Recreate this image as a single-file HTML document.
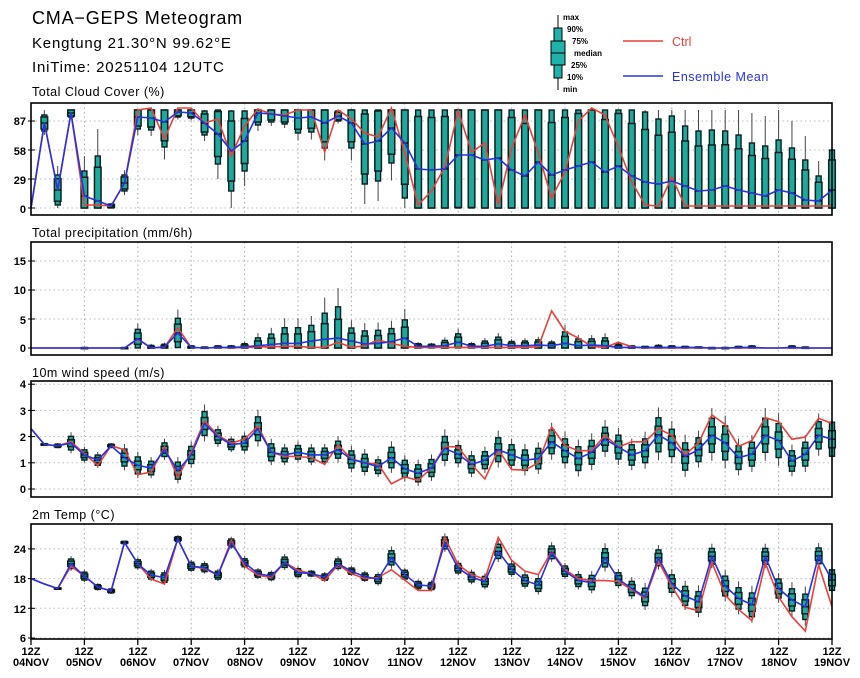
<!DOCTYPE html>
<html><head><meta charset="utf-8"><style>
html,body{margin:0;padding:0;background:#fff;}
svg{display:block;font-family:"Liberation Sans",sans-serif;}
.t{font-size:11px;font-weight:bold;fill:#000}
.pt{font-size:12.5px;fill:#000;letter-spacing:0.5px}
</style></head><body>
<svg id="s" width="860" height="678" viewBox="0 0 860 678" xmlns="http://www.w3.org/2000/svg">
<text x="32" y="24" style="font-size:18px;letter-spacing:0.8px">CMA−GEPS Meteogram</text>
<text x="32" y="48" style="font-size:15px;letter-spacing:0.8px">Kengtung 21.30°N 99.62°E</text>
<text x="32" y="72" style="font-size:15px;letter-spacing:0.8px">IniTime: 20251104 12UTC</text>
<g id="leg">
<line x1="558" y1="15" x2="558" y2="90" stroke="#000"/>
<rect x="554" y="28" width="8" height="50" fill="#20b2aa" stroke="#000"/>
<rect x="551" y="41" width="14" height="24" fill="#20b2aa" stroke="#000"/>
<line x1="551" y1="53" x2="565" y2="53" stroke="#000"/>
<text x="563" y="20" style="font-size:8px;font-weight:bold">max</text>
<text x="567" y="32" style="font-size:8px;font-weight:bold">90%</text>
<text x="572" y="44" style="font-size:8px;font-weight:bold">75%</text>
<text x="574" y="56" style="font-size:8px;font-weight:bold">median</text>
<text x="571" y="68" style="font-size:8px;font-weight:bold">25%</text>
<text x="567" y="80" style="font-size:8px;font-weight:bold">10%</text>
<text x="563" y="92" style="font-size:8px;font-weight:bold">min</text>
<line x1="623" y1="41" x2="663" y2="41" stroke="#e8413c" stroke-width="1.5"/>
<text x="672" y="46" style="font-size:12.5px;fill:#e8413c">Ctrl</text>
<line x1="623" y1="76" x2="663" y2="76" stroke="#2633e0" stroke-width="1.5"/>
<text x="672" y="81" style="font-size:12.5px;fill:#2633e0;letter-spacing:0.5px">Ensemble Mean</text>
</g>
<text class="pt" x="32" y="96">Total Cloud Cover (%)</text>
<text class="pt" x="32" y="237">Total precipitation (mm/6h)</text>
<text class="pt" x="32" y="377">10m wind speed (m/s)</text>
<text class="pt" x="32" y="519">2m Temp (°C)</text>
<g class="t" text-anchor="end">
<text x="26" y="125">87</text><text x="26" y="155">58</text><text x="26" y="184">29</text><text x="26" y="213">0</text>
<text x="26" y="265">15</text><text x="26" y="294">10</text><text x="26" y="324">5</text><text x="26" y="352">0</text>
<text x="26" y="388">4</text><text x="26" y="415">3</text><text x="26" y="441">2</text><text x="26" y="467">1</text><text x="26" y="493">0</text>
<text x="26" y="553">24</text><text x="26" y="583">18</text><text x="26" y="613">12</text><text x="26" y="642">6</text>
</g>
<g class="t" text-anchor="middle">
<text x="31" y="655">12Z</text><text x="31" y="666">04NOV</text>
<text x="84" y="655">12Z</text><text x="84" y="666">05NOV</text>
<text x="138" y="655">12Z</text><text x="138" y="666">06NOV</text>
<text x="191" y="655">12Z</text><text x="191" y="666">07NOV</text>
<text x="245" y="655">12Z</text><text x="245" y="666">08NOV</text>
<text x="298" y="655">12Z</text><text x="298" y="666">09NOV</text>
<text x="351" y="655">12Z</text><text x="351" y="666">10NOV</text>
<text x="405" y="655">12Z</text><text x="405" y="666">11NOV</text>
<text x="458" y="655">12Z</text><text x="458" y="666">12NOV</text>
<text x="512" y="655">12Z</text><text x="512" y="666">13NOV</text>
<text x="565" y="655">12Z</text><text x="565" y="666">14NOV</text>
<text x="618" y="655">12Z</text><text x="618" y="666">15NOV</text>
<text x="672" y="655">12Z</text><text x="672" y="666">16NOV</text>
<text x="725" y="655">12Z</text><text x="725" y="666">17NOV</text>
<text x="779" y="655">12Z</text><text x="779" y="666">18NOV</text>
<text x="832" y="655">12Z</text><text x="832" y="666">19NOV</text>
</g>
<g id="plots"></g>
</svg>
<script>
var NS="http://www.w3.org/2000/svg",G=document.getElementById("plots");
function el(n,a){var e=document.createElementNS(NS,n);for(var k in a)e.setAttribute(k,a[k]);G.appendChild(e);return e;}
var X0=31,DX=13.35;function X(i){return X0+i*DX;}
var P=[
{top:103,bot:215,v0:0,y0:208,k:1,lo:0,hi:98,ticks:[0,29,58,87],qf:0.75,ws:1,
m:[0,85,18,95,12,7,2,25,91,90,86,96,95,85,74,57,67,95,94,92,90,91,85,92,85,64,67,80,65,39,38,39,53,53,48,50,38,32,46,33,38,42,46,36,42,32,26,24,27,22,17,18,22,18,15,12,18,15,8,7,18],
c:[0,85,18,95,3,3,2,25,98,100,69,100,100,85,89,52,82,99,94,93,98,98,56,98,89,75,71,100,55,3,17,41,97,56,65,3,60,93,55,10,36,87,100,93,61,26,3,2,31,2,2,2,2,2,2,2,2,2,2,2,2],
w:[0,8,15,4,25,45,2,8,12,12,25,5,5,12,30,40,30,12,8,8,15,15,25,5,25,40,40,35,55,70,70,70,70,70,70,70,70,70,70,70,70,70,70,70,70,70,70,65,65,60,60,60,55,55,50,50,50,45,40,25,40]},
{top:242,bot:355,v0:0,y0:348,k:5.8,lo:0,hi:30,ticks:[0,5,10,15],qf:0.6,ws:0.9,
m:[0,0,0,0,0,0,0,0,1.6,0,0.2,2.6,0.1,0,0.1,0.1,0.2,0.4,0.6,0.8,0.8,1.2,1.5,1.7,1.2,0.7,0.8,1.1,1.7,0.3,0.3,0.4,1,0.3,0.3,0.7,0.4,0.4,0.5,0.4,0.8,0.4,0.5,0.4,0.1,0.1,0.1,0.1,0.1,0.1,0.1,0,0,0.1,0.1,0,0,0.1,0,0,0],
c:[0,0,0,0,0,0,0,0,1.5,0,0.1,3.5,0.1,0,0.1,0,0.1,0.2,0.2,0.3,0.3,0.1,0.1,1,0.1,0.4,1.4,0.8,0.3,0.1,0.1,0.1,0.1,0.1,0.1,0.1,0.1,0.1,0.2,6.4,2.9,1.7,0.3,0.1,1,0.2,0,0,0,0,0,0,0,0,0,0,0,0,0,0,0],
w:[0,0,0,0,0.1,0,0,0.1,1.8,0.5,0.5,2.8,0.3,0.2,0.3,0.3,0.6,1.5,2,3,3,3,5,6,2.5,2.5,2.5,2.5,3.5,0.5,0.4,1,1.6,0.5,1,1.3,0.8,0.9,1,0.7,2.2,1.3,1.2,1.5,0.6,0.3,0.2,0.4,0.3,0.2,0.1,0.1,0.1,0.2,0.3,0,0,0.3,0.2,0,0]},
{top:381,bot:497,v0:0,y0:489,k:26.2,lo:0,hi:5,ticks:[0,1,2,3,4],qf:0.5,ws:0.65,
m:[2.3,1.7,1.65,1.75,1.3,1.1,1.65,1.2,0.9,0.8,1.5,0.7,1.3,2.5,2,1.7,1.75,2.3,1.4,1.3,1.4,1.3,1.3,1.5,1.13,1,0.85,1.2,0.77,0.6,0.8,1.55,1.33,0.94,1.1,1.5,1.3,1.1,1.16,1.8,1.46,1.16,1.4,1.9,1.6,1.3,1.46,2.07,1.76,1.24,1.5,2.05,1.76,1.2,1.33,2.05,1.85,1.07,1.33,2.05,1.9],
c:[2.3,1.7,1.65,1.8,1.35,0.9,1.65,1.5,0.55,0.65,1.6,0.45,1.4,2.6,2.05,1.75,1.9,2.4,1.4,1.25,1.24,1.2,0.94,1.68,1.15,1,0.95,0.2,0.46,0.33,0.8,1.63,1.6,0.94,0.38,1.5,0.74,0.72,1,2.37,1.66,1.46,1.46,2.05,1.6,1.8,1.8,2.3,2.05,1.3,1.76,2.83,2.46,1.63,1.85,2.72,2.57,1.9,1.98,2.7,2.5],
w:[0,0.05,0.1,0.4,0.3,0.3,0.1,0.5,0.5,0.4,0.4,0.5,0.5,0.7,0.4,0.3,0.4,0.7,0.5,0.4,0.4,0.4,0.4,0.5,0.5,0.5,0.4,0.6,0.5,0.5,0.5,0.7,0.5,0.5,0.5,0.7,0.6,0.6,0.6,0.7,0.7,0.7,0.7,0.7,0.7,0.6,0.7,1,0.8,0.8,0.7,1,1,0.7,0.7,1,1,0.6,0.7,0.8,1]},
{top:524,bot:639,v0:6,y0:638,k:4.95,lo:0,hi:40,ticks:[6,12,18,24],qf:0.55,ws:0.8,
m:[18,16.9,16,21,18.5,16.3,15.5,25.3,21,18.7,18.2,26,20.5,20.2,18.7,25.2,21.2,19,18.5,21.3,19.2,19,18.3,21,19.5,18.4,17.9,22.2,18.8,16.7,16.5,25.2,20.1,18.3,17.4,23.5,19.9,17.6,16.7,23.3,19.5,17.6,17.2,22.2,17.9,16,14.3,22.2,17,14.5,13.3,22.5,16.5,14,12.7,22.5,16,13.7,12.3,22.6,17.7],
c:[18,16.9,16,20.5,18.5,16.3,15.5,25.3,21,17.9,16.9,26,20.5,20,18.7,25.7,20.5,18.7,18.2,21.3,19.7,19,17.6,20.8,19,18,18.2,19.8,17.7,15.6,15.6,26.3,20.8,18.8,17.9,26.3,21.7,19.5,18.8,23.5,19.8,18,17.6,17.6,17.4,15.8,14,21.5,16.4,12.2,11.5,21.3,14.7,11.8,9.5,21.2,14.3,10.3,7.4,20.8,12.3],
w:[0,0,0.2,1.2,1,0.6,0.5,0.3,1,1,1.2,0.6,1,1,1,1,1,0.9,0.9,1.3,1,0.6,0.8,1.2,0.8,0.9,1.1,1.8,1.1,0.9,0.9,1.5,1.2,1.2,1.3,1.8,1.3,1.4,1.6,1.6,1.3,1.5,1.8,2.3,1.6,1.8,2.2,2,2.2,2.4,2.6,2,2.5,2.7,3,2,2.4,2.8,3.2,2,2.6]}
];
P.forEach(function(p){
  function Y(v){return p.y0-(v-p.v0)*p.k;}
  function cl(v){return Math.max(p.lo,Math.min(p.hi,v));}
  for(var d=1;d<15;d++){el("line",{x1:X(d*4),x2:X(d*4),y1:p.top,y2:p.bot,stroke:"#aaa","stroke-dasharray":"1.5,3"});}
  p.ticks.forEach(function(t){var y=Y(t);el("line",{x1:X0,x2:X(60),y1:y,y2:y,stroke:"#bbb","stroke-dasharray":"1.5,3"});el("line",{x1:X0,x2:X0+4,y1:y,y2:y,stroke:"#000"});el("line",{x1:X0-3,x2:X0,y1:y,y2:y,stroke:"#000"});});
  for(var i=0;i<=60;i++){
    var m=p.m[i],w=p.w[i]*p.ws;if(w<=0)continue;var x=X(i);
    var mn=cl(m-1.5*w),mx=cl(m+1.6*w),p10=cl(m-w),p90=cl(m+w),p25=cl(m-p.qf*w),p75=cl(m+p.qf*w);
    el("line",{x1:x,x2:x,y1:Y(mx),y2:Y(mn),stroke:"#444","stroke-width":1});
    el("rect",{x:x-2.5,y:Y(p90),width:5,height:Math.max(1,Y(p10)-Y(p90)),fill:"#1fa89c",stroke:"#0b2020","stroke-width":1.4});
    el("rect",{x:x-3.3,y:Y(p75),width:6.6,height:Math.max(1,Y(p25)-Y(p75)),fill:"#1fa89c",stroke:"#0b2020","stroke-width":1.5});
    el("line",{x1:x-3.3,x2:x+3.3,y1:Y(m),y2:Y(m),stroke:"#000","stroke-width":1.2});
  }
  var a="",b="";for(var i=0;i<=60;i++){a+=(i?"L":"M")+X(i).toFixed(1)+","+Y(p.c[i]).toFixed(1);b+=(i?"L":"M")+X(i).toFixed(1)+","+Y(p.m[i]).toFixed(1);}
  el("path",{d:a,fill:"none",stroke:"#e8413c","stroke-width":1.6});
  el("path",{d:b,fill:"none",stroke:"#2633e0","stroke-width":1.6});
  el("rect",{x:X0,y:p.top,width:X(60)-X0,height:p.bot-p.top,fill:"none",stroke:"#000","stroke-width":1.6});
});
for(var d=0;d<=15;d++){var x=X(d*4);el("line",{x1:x,x2:x,y1:639,y2:645,stroke:"#000","stroke-width":1.3});}
</script>
</body></html>
